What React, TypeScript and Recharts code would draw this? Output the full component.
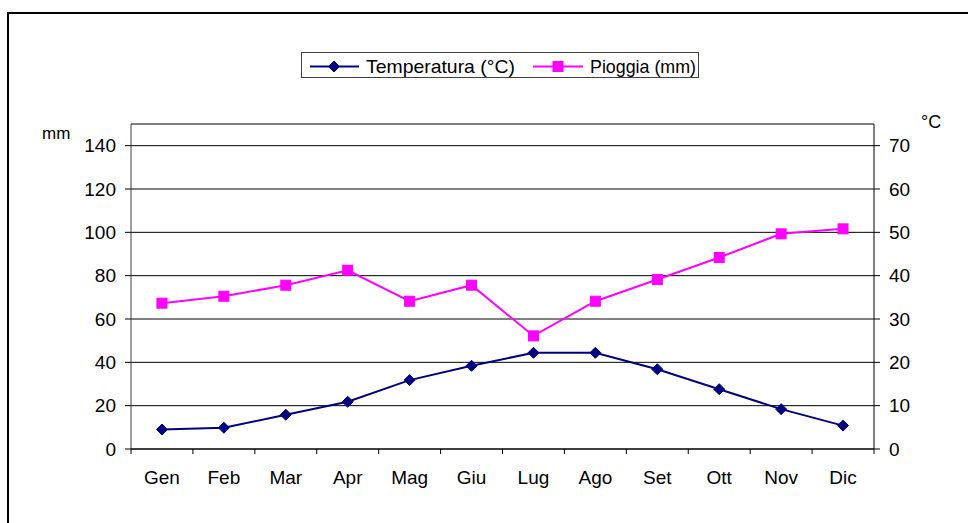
import React from 'react';
import { LineChart, Line, XAxis, YAxis, CartesianGrid, ReferenceLine } from 'recharts';

const months = ['Gen', 'Feb', 'Mar', 'Apr', 'Mag', 'Giu', 'Lug', 'Ago', 'Set', 'Ott', 'Nov', 'Dic'];
const temperatura = [4.5, 4.9, 7.9, 10.9, 15.9, 19.2, 22.2, 22.2, 18.4, 13.8, 9.2, 5.4];
const pioggia = [67.3, 70.5, 75.6, 82.5, 68.2, 75.6, 52.2, 68.2, 78.2, 88.4, 99.3, 101.6];
const mmTicks = [0, 20, 40, 60, 80, 100, 120, 140];
const cTicks = [0, 10, 20, 30, 40, 50, 60, 70];
const seriesNames = ['Temperatura (°C)', 'Pioggia (mm)'];

const data = months.map((m, i) => ({ m, t: temperatura[i], p: pioggia[i] }));

const FONT = '"Liberation Sans", Arial, Helvetica, sans-serif';
const FS = 19;
const NAVY = '#000080';
const PINK = '#FF00FF';
const W = 968;
const H = 523;
const MARGIN = { top: 124, right: 34, bottom: 44, left: 71 };

const Diamond = ({ cx, cy, r = 5.5 }: any) => (
  <path d={`M${cx},${cy - r}L${cx + r},${cy}L${cx},${cy + r}L${cx - r},${cy}Z`} fill={NAVY} stroke={NAVY} strokeWidth={1} />
);
const Square = ({ cx, cy, r = 5 }: any) => (
  <rect x={cx - r} y={cy - r} width={2 * r} height={2 * r} fill={PINK} stroke={PINK} strokeWidth={1} />
);

const XTick = (props: any) => {
  const { x, y, payload, index } = props;
  const half = payload && payload.offset ? payload.offset : (W - MARGIN.left - MARGIN.right - 120) / 24;
  const axisY = y - 5;
  return (
    <g>
      <line x1={x - half} y1={axisY} x2={x - half} y2={axisY + 5} stroke="#000" strokeWidth={1} />
      {index === months.length - 1 && (
        <line x1={x + half} y1={axisY} x2={x + half} y2={axisY + 5} stroke="#000" strokeWidth={1} />
      )}
      <text x={x} y={axisY + 35} textAnchor="middle" fontFamily={FONT} fontSize={FS} fill="#000">
        {payload.value}
      </text>
    </g>
  );
};

export default function App() {
  return (
    <div style={{ position: 'absolute', left: 0, top: 0, width: W, height: H, overflow: 'hidden', background: '#fff' }}>
      <div
        style={{
          position: 'absolute',
          left: 7,
          top: 12,
          width: 1000,
          height: 600,
          border: '2px solid #000',
          boxSizing: 'border-box',
        }}
      />
      <div style={{ position: 'absolute', left: 0, top: 0 }}>
        <LineChart width={W} height={H} data={data} margin={MARGIN}>
          <CartesianGrid yAxisId="mm" vertical={false} horizontal stroke="#000" strokeWidth={1} />
          <XAxis
            dataKey="m"
            scale="band"
            interval={0}
            height={30}
            tickLine={false}
            tickSize={5}
            tickMargin={0}
            axisLine={{ stroke: '#000', strokeWidth: 1 }}
            tick={<XTick />}
          />
          <YAxis
            yAxisId="mm"
            orientation="left"
            width={60}
            domain={[0, 150]}
            ticks={mmTicks}
            interval={0}
            allowDataOverflow
            tickSize={6}
            tickMargin={9}
            axisLine={{ stroke: '#404040', strokeWidth: 1 }}
            tickLine={{ stroke: '#000' }}
            tick={{ fill: '#000', fontFamily: FONT, fontSize: FS }}
          />
          <YAxis
            yAxisId="c"
            orientation="right"
            width={60}
            domain={[0, 75]}
            ticks={cTicks}
            interval={0}
            allowDataOverflow
            tickSize={6}
            tickMargin={9}
            axisLine={{ stroke: '#000', strokeWidth: 1 }}
            tickLine={{ stroke: '#000' }}
            tick={{ fill: '#000', fontFamily: FONT, fontSize: FS }}
          />
          <ReferenceLine yAxisId="mm" y={150} stroke="#808080" strokeWidth={1} />
          <Line
            yAxisId="mm"
            dataKey="p"
            name={seriesNames[1]}
            stroke={PINK}
            strokeWidth={2}
            isAnimationActive={false}
            dot={(p: any) => <Square key={`s${p.index}`} cx={p.cx} cy={p.cy} />}
            activeDot={false}
          />
          <Line
            yAxisId="c"
            dataKey="t"
            name={seriesNames[0]}
            stroke={NAVY}
            strokeWidth={2}
            isAnimationActive={false}
            dot={(p: any) => <Diamond key={`d${p.index}`} cx={p.cx} cy={p.cy} />}
            activeDot={false}
          />
        </LineChart>
      </div>
      <svg style={{ position: 'absolute', left: 0, top: 0 }} width={W} height={H} pointerEvents="none">
        <rect x={301.5} y={52.5} width={397} height={25} fill="#fff" stroke="#404040" strokeWidth={1} />
        <line x1={310} y1={66.5} x2={359} y2={66.5} stroke={NAVY} strokeWidth={2} />
        <Diamond cx={334} cy={66.5} />
        <text x={366} y={73} fontFamily={FONT} fontSize={18.5} fill="#000" textLength={149} lengthAdjust="spacingAndGlyphs">{seriesNames[0]}</text>
        <line x1={533} y1={66.5} x2={583} y2={66.5} stroke={PINK} strokeWidth={2} />
        <Square cx={558} cy={66.5} />
        <text x={590} y={73} fontFamily={FONT} fontSize={18.5} fill="#000" textLength={106} lengthAdjust="spacingAndGlyphs">{seriesNames[1]}</text>
        <text x={42} y={139} fontFamily={FONT} fontSize={17} fill="#000">mm</text>
        <text x={921} y={128} fontFamily={FONT} fontSize={18} fill="#000">°C</text>
      </svg>
    </div>
  );
}
